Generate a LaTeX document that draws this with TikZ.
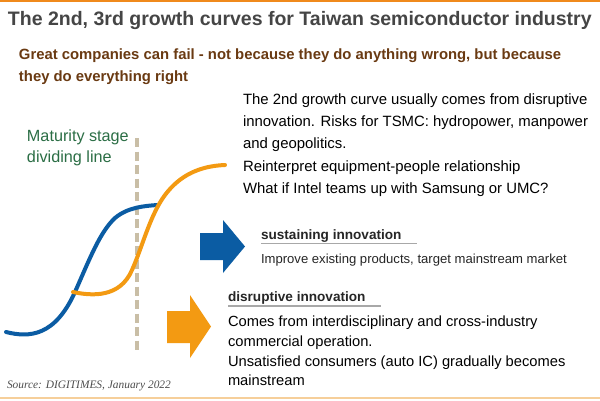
\documentclass[tikz,border=0pt]{standalone}
\usepackage{fontspec}
\setmainfont{Liberation Sans}
\newfontfamily\srcfont{Liberation Serif}
\definecolor{topor}{HTML}{F08A1C}
\definecolor{botor}{HTML}{F6CF9A}
\definecolor{titlegray}{HTML}{454545}
\definecolor{brownt}{HTML}{6A3A12}
\definecolor{greent}{HTML}{2B6E45}
\definecolor{curveblue}{HTML}{0B5CA3}
\definecolor{curveorange}{HTML}{F39A12}
\definecolor{dashc}{HTML}{C9BEA6}
\definecolor{ulgray}{HTML}{A8A8A8}
\tikzset{
  txt/.style={anchor=base west, inner sep=0pt, outer sep=0pt},
  curve/.style={line width=4pt, line cap=round},
}
\begin{document}
\begin{tikzpicture}[x=1pt,y=-1pt]
\useasboundingbox (0,0) rectangle (600,400);
\fill[white] (0,0) rectangle (600,400);
% top and bottom rules
\fill[topor] (0,0) rectangle (600,2.2);
\fill[botor] (0,397.3) rectangle (600,398.8);
% title
\node[txt, text=titlegray, font=\fontsize{19.5}{21}\selectfont\bfseries] (title) at (8,25.5) {The 2nd, 3rd growth curves for Taiwan semiconductor industry};
% subtitle
\node[txt, text=brownt, font=\fontsize{14.85}{16}\selectfont\bfseries] (sub1) at (19,59.5) {Great companies can fail - not because they do anything wrong, but because};
\node[txt, text=brownt, font=\fontsize{14.85}{16}\selectfont\bfseries] (sub2) at (19,81) {they do everything right};
% right text block
\tikzset{rt/.style={txt, font=\fontsize{14.9}{17}\selectfont}}
\node[rt] (r1) at (243,104) {The 2nd growth curve usually comes from disruptive};
\node[rt] (r2) at (243,126) {innovation. Risks for TSMC: hydropower, manpower};
\node[rt] (r3) at (243,148.5) {and geopolitics.};
\node[rt] (r4) at (243,171) {Reinterpret equipment-people relationship};
\node[rt] (r5) at (243,193) {What if Intel teams up with Samsung or UMC?};
% maturity label
\node[txt, text=greent, font=\fontsize{16.2}{18}\selectfont] (m1) at (27,141) {Maturity stage};
\node[txt, text=greent, font=\fontsize{16.2}{18}\selectfont] (m2) at (27,162) {dividing line};
% dashed dividing line
\coordinate (dtop) at (137,138);
\coordinate (dbot) at (137,354);
\draw[dashc, line width=3.6pt, dash pattern=on 9pt off 4.5pt] (dtop) -- (dbot);
% blue curve
\draw[curveblue, curve] (6,332) .. controls (30,338) and (55,336) .. (75,292)
  .. controls (90,258) and (100,232) .. (115,218)
  .. controls (128,207) and (145,206) .. (157,205);
% orange curve
\draw[curveorange, curve] (73,292) .. controls (92,296) and (120,298) .. (132,270)
  .. controls (142,248) and (150,215) .. (165,195)
  .. controls (180,175) and (200,166) .. (225,165);
% blue block arrow
\fill[curveblue] (200,233) -- (223,233) -- (223,220) -- (245,246.5) -- (223,273) -- (223,260) -- (200,260) -- cycle;
% orange block arrow
\fill[curveorange] (167,311) -- (190,311) -- (190,295) -- (211,326.5) -- (190,358) -- (190,343) -- (167,343) -- cycle;
% sustaining innovation
\node[txt, text=black!85, font=\fontsize{13.6}{15}\selectfont\bfseries] (sus) at (261,239) {sustaining innovation};
\draw[ulgray, line width=1.5pt] (261,243.5) -- (417,243.5);
\node[txt, text=black!85, font=\fontsize{13.1}{15}\selectfont] (imp) at (261,263) {Improve existing products, target mainstream market};
% disruptive innovation
\node[txt, text=black!85, font=\fontsize{13.6}{15}\selectfont\bfseries] (dis) at (228,301) {disruptive innovation};
\draw[ulgray, line width=1.5pt] (228,306) -- (381,306);
\tikzset{dt/.style={txt, font=\fontsize{14.7}{17}\selectfont}}
\node[dt] (d1) at (228,326) {Comes from interdisciplinary and cross-industry};
\node[dt] (d2) at (228,346) {commercial operation.};
\node[dt] (d3) at (228,366) {Unsatisfied consumers (auto IC) gradually becomes};
\node[dt] (d4) at (228,385) {mainstream};
% source
\node[txt, text=black!70, font=\srcfont\fontsize{11.4}{13}\selectfont\itshape] (src) at (7,388) {Source: DIGITIMES, January 2022};
\end{tikzpicture}
\end{document}
